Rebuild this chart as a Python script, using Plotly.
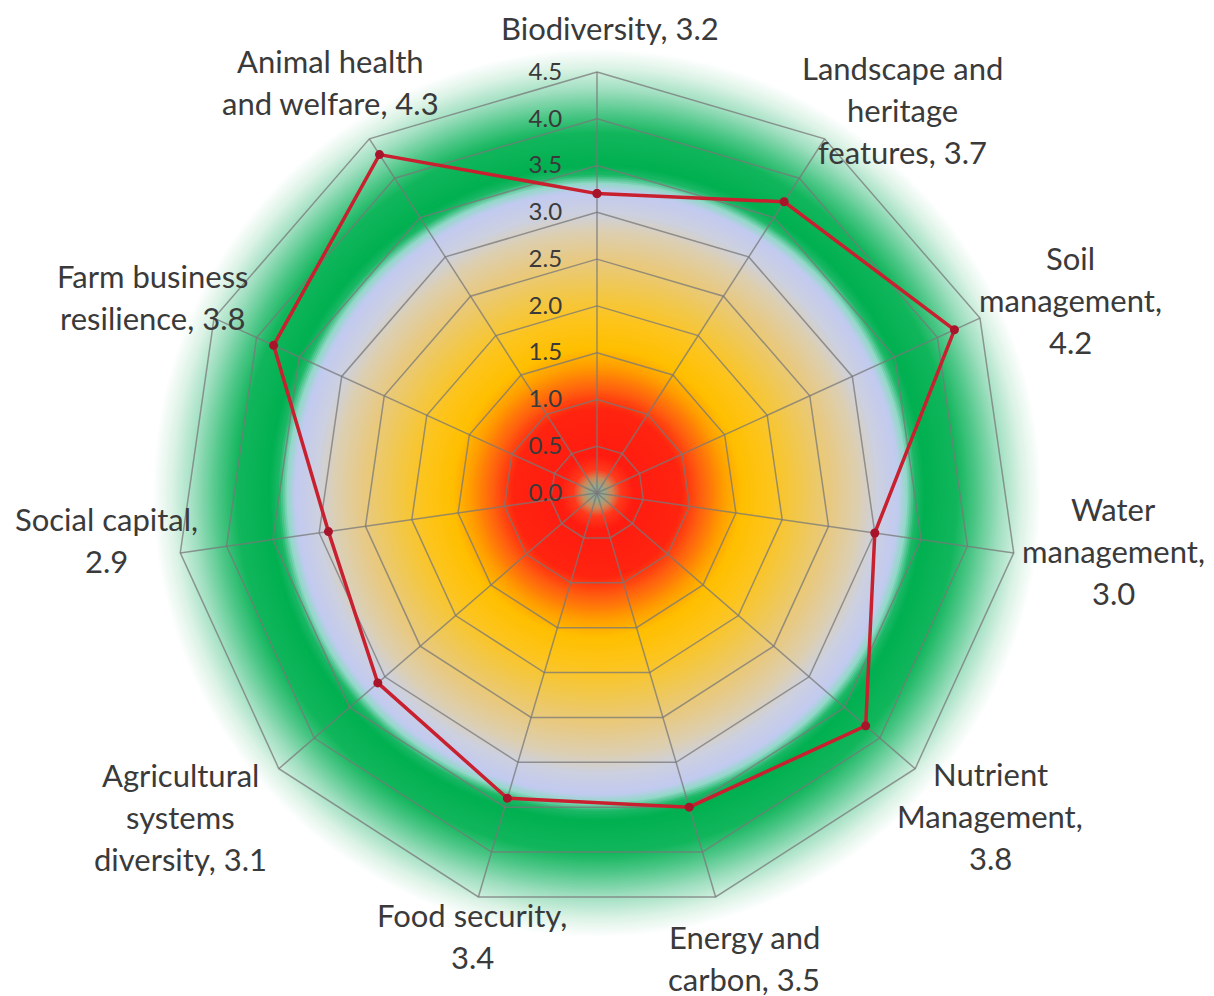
import numpy as np
import plotly.graph_objects as go

# ---------------- data ----------------
CATEGORIES = [
    "Biodiversity", "Landscape and heritage features", "Soil management",
    "Water management", "Nutrient Management", "Energy and carbon",
    "Food security", "Agricultural systems diversity", "Social capital",
    "Farm business resilience", "Animal health and welfare",
]
SCORES = [3.2, 3.7, 4.2, 3.0, 3.8, 3.5, 3.4, 3.1, 2.9, 3.8, 4.3]
TICK_VALUES = [0.0, 0.5, 1.0, 1.5, 2.0, 2.5, 3.0, 3.5, 4.0, 4.5]
TICK_LABELS = ["0.0", "0.5", "1.0", "1.5", "2.0", "2.5", "3.0", "3.5", "4.0", "4.5"]
LABEL_LINES = [
    ["Biodiversity, 3.2"],
    ["Landscape and", "heritage", "features, 3.7"],
    ["Soil", "management,", "4.2"],
    ["Water", "management,", "3.0"],
    ["Nutrient", "Management,", "3.8"],
    ["Energy and", "carbon, 3.5"],
    ["Food security,", "3.4"],
    ["Agricultural", "systems", "diversity, 3.1"],
    ["Social capital,", "2.9"],
    ["Farm business", "resilience, 3.8"],
    ["Animal health", "and welfare, 4.3"],
]

# ---------------- layout geometry / style ----------------
W, H = 1214, 996
PAGE_OFFSET = 8          # browser body margin
CX, CY = 597 - PAGE_OFFSET, 493 - PAGE_OFFSET
R_AXIS_MAX = 4.5
R45_PX = 421
R_RANGE = 4.9
RFULL_PX = R45_PX * R_RANGE / R_AXIS_MAX
LABEL_POS_PX = [
    (610, 28), (902, 110), (1070, 300), (1113, 551), (990, 816),
    (744, 958), (472, 936), (180, 817), (107, 540), (152, 297), (330, 82),
]
LINE_STEP = 42
FONT = "Lato, 'Noto Sans', sans-serif"
TEXT_COLOR = "#3a3a3a"

n = len(CATEGORIES)
angles = [k * 360.0 / n for k in range(n)]

# radial colour gradient of the background (value -> colour)
GRAD_STOPS = [
    (0.00, "#86a8a4"), (0.08, "#96a88c"), (0.16, "#cc8a5a"), (0.25, "#ff3a1c"),
    (0.40, "#ff1c10"), (0.90, "#ff2410"), (1.10, "#ff5c10"), (1.35, "#ff9c00"),
    (1.55, "#ffbf00"), (1.85, "#fdc41c"), (2.20, "#f0c852"), (2.50, "#e8c982"),
    (2.80, "#dccfb2"), (3.00, "#ccd0e0"), (3.22, "#c2caf0"), (3.31, "#92d8c8"),
    (3.40, "#1cb866"), (3.50, "#00b050"), (3.85, "#12b65c"), (4.05, "#4cc686"),
    (4.30, "#9cdebe"), (4.55, "#dcf3e6"), (4.75, "#ffffff"),
]


def hex2rgb(h):
    h = h.lstrip("#")
    return np.array([int(h[i:i + 2], 16) for i in (0, 2, 4)], dtype=float)


gv = np.array([s[0] for s in GRAD_STOPS])
gc = np.array([hex2rgb(s[1]) for s in GRAD_STOPS])
ring_r = np.arange(4.80, 0.0, -0.02)
ring_cols = []
for rv in ring_r:
    c = [np.interp(rv - 0.01, gv, gc[:, j]) for j in range(3)]
    ring_cols.append("rgb(%d,%d,%d)" % tuple(int(round(x)) for x in c))

fig = go.Figure()

# background gradient discs (largest first)
fig.add_trace(go.Barpolar(
    r=list(ring_r), theta=[0] * len(ring_r), width=[360] * len(ring_r),
    base=[0] * len(ring_r),
    marker=dict(color=ring_cols, line=dict(width=0)),
    hoverinfo="skip", showlegend=False,
))

# polygon gridlines
GRID_COLOR = "rgba(120,120,120,0.75)"
for lv in TICK_VALUES[1:]:
    fig.add_trace(go.Scatterpolar(
        r=[lv] * (n + 1), theta=angles + [angles[0]], mode="lines",
        line=dict(color=GRID_COLOR, width=1.5), hoverinfo="skip", showlegend=False,
    ))
# spokes
sr, st = [], []
for a in angles:
    sr += [0, R_AXIS_MAX, None]
    st += [a, a, None]
fig.add_trace(go.Scatterpolar(
    r=sr, theta=st, mode="lines", line=dict(color=GRID_COLOR, width=1.5),
    hoverinfo="skip", showlegend=False,
))

# data series
fig.add_trace(go.Scatterpolar(
    r=SCORES + [SCORES[0]], theta=angles + [angles[0]], mode="lines+markers",
    line=dict(color="#c8202e", width=3.5),
    marker=dict(color="#a8142a", size=9),
    name="Score", showlegend=False,
))

# category labels (one annotation per text line)
for lines, (px, py) in zip(LABEL_LINES, LABEL_POS_PX):
    m = len(lines)
    for i, line in enumerate(lines):
        ly = py + (i - (m - 1) / 2.0) * LINE_STEP - PAGE_OFFSET
        lx = px - PAGE_OFFSET
        fig.add_annotation(
            x=lx / W, y=1 - ly / H, xref="paper", yref="paper", text=line,
            showarrow=False, xanchor="center", yanchor="middle", align="center",
            font=dict(family=FONT, size=31, color=TEXT_COLOR),
        )

fig.update_layout(
    width=W, height=H,
    margin=dict(l=0, r=0, t=0, b=0),
    paper_bgcolor="white",
    showlegend=False,
    polar=dict(
        domain=dict(
            x=[(CX - RFULL_PX) / W, (CX + RFULL_PX) / W],
            y=[1 - (CY + RFULL_PX) / H, 1 - (CY - RFULL_PX) / H],
        ),
        bgcolor="rgba(0,0,0,0)",
        barmode="overlay",
        radialaxis=dict(
            range=[0, R_RANGE], angle=90, tickangle=90, side="counterclockwise",
            showgrid=False, showline=False, tickvals=TICK_VALUES, ticktext=TICK_LABELS,
            ticks="outside", ticklen=26, tickcolor="rgba(0,0,0,0)",
            tickfont=dict(family=FONT, size=24, color=TEXT_COLOR),
        ),
        angularaxis=dict(
            type="linear", rotation=90, direction="clockwise",
            showgrid=False, showline=False, showticklabels=False, ticks="",
        ),
    ),
)

fig.write_html("out.html")
